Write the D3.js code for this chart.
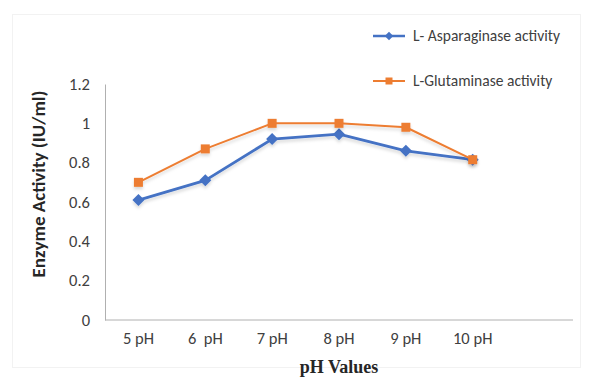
<!DOCTYPE html>
<html>
<head>
<meta charset="utf-8">
<script src="https://cdn.jsdelivr.net/npm/d3@7"></script>
<style>
  html, body { margin: 0; padding: 0; background: #fff; }
  svg { display: block; }
</style>
</head>
<body>
<svg id="chart"></svg>
<script>
// pH profile of L-asparaginase and L-glutaminase activity

const WIDTH = 595;
const HEIGHT = 379;

const phLabels = ["5 pH", "6  pH", "7 pH", "8 pH", "9 pH", "10 pH"];
const asparaginase = [0.61, 0.71, 0.92, 0.945, 0.86, 0.815];
const glutaminase = [0.70, 0.87, 1.0, 1.0, 0.98, 0.815];
const yTicks = [0, 0.2, 0.4, 0.6, 0.8, 1, 1.2];
const seriesNames = ["L- Asparaginase activity", "L-Glutaminase activity"];

const BLUE = "#4472C4";
const ORANGE = "#ED7D31";
const AXIS_COLOR = "#b0b0b0";
const LABEL_COLOR = "#404040";
const FONT = "Carlito, 'Open Sans', sans-serif";

const plotLeft = 105;
const plotRight = 573;
const plotTop = 84;
const plotBottom = 320;
const band = (plotRight - plotLeft) / 7;

const svg = d3.select("#chart")
    .attr("width", WIDTH)
    .attr("height", HEIGHT);

// Drop shadow like the Excel line effect
const defs = svg.append("defs");
const shadow = defs.append("filter")
    .attr("id", "shadow")
    .attr("x", "-20%").attr("y", "-20%")
    .attr("width", "140%").attr("height", "160%");
shadow.append("feDropShadow")
    .attr("dx", 0).attr("dy", 2.5)
    .attr("stdDeviation", 1.5)
    .attr("flood-color", "#000")
    .attr("flood-opacity", 0.15);

// Faint chart frame
svg.append("rect")
    .attr("x", 12.5).attr("y", 14.5)
    .attr("width", 568).attr("height", 353)
    .attr("fill", "none")
    .attr("stroke", "#f2f2f2")
    .attr("stroke-width", 1);

const x = d3.scaleBand()
    .domain(phLabels)
    .range([plotLeft, plotLeft + band * phLabels.length]);

const y = d3.scaleLinear()
    .domain([0, 1.2])
    .range([plotBottom, plotTop]);

// Axes
const yAxis = svg.append("g")
    .attr("transform", `translate(${plotLeft},0)`)
    .call(d3.axisLeft(y).tickValues(yTicks).tickSize(0).tickPadding(15)
        .tickFormat(d => String(d)));
yAxis.select(".domain").attr("stroke", AXIS_COLOR);
yAxis.selectAll("text")
    .attr("font-family", FONT)
    .attr("font-size", "16.5px")
    .attr("fill", LABEL_COLOR);

const xAxis = svg.append("g")
    .attr("transform", `translate(0,${plotBottom})`)
    .call(d3.axisBottom(x).tickSize(0).tickPadding(12));
xAxis.select(".domain").remove();
xAxis.append("line")
    .attr("x1", plotLeft).attr("x2", plotRight)
    .attr("stroke", AXIS_COLOR);
xAxis.selectAll("text")
    .attr("font-family", FONT)
    .attr("font-size", "16.5px")
    .attr("fill", LABEL_COLOR)
    .style("white-space", "pre");

// Axis titles
svg.append("text")
    .attr("transform", `translate(45,${(plotTop + plotBottom) / 2 - 18}) rotate(-90)`)
    .attr("text-anchor", "middle")
    .attr("font-family", FONT)
    .attr("font-size", "19px")
    .attr("font-weight", "bold")
    .attr("fill", "#262626")
    .text("Enzyme Activity (IU/ml)");

svg.append("text")
    .attr("x", 339)
    .attr("y", 373)
    .attr("text-anchor", "middle")
    .attr("font-family", "'Liberation Serif', 'DejaVu Serif', serif")
    .attr("font-size", "18px")
    .attr("font-weight", "bold")
    .attr("fill", "#262626")
    .text("pH Values");

// Series
const line = d3.line()
    .x((d, i) => x(phLabels[i]) + x.bandwidth() / 2)
    .y(d => y(d));

// Diamond = square turned 45 degrees, so it is as wide as it is tall
const square = d3.symbol().type(d3.symbolSquare);

function drawSeries(values, color, width, size, angle) {
    const g = svg.append("g").attr("filter", "url(#shadow)");
    g.append("path")
        .attr("d", line(values))
        .attr("fill", "none")
        .attr("stroke", color)
        .attr("stroke-width", width)
        .attr("stroke-linejoin", "round");
    g.selectAll(".marker")
        .data(values)
        .join("path")
        .attr("class", "marker")
        .attr("transform", (d, i) =>
            `translate(${x(phLabels[i]) + x.bandwidth() / 2},${y(d)}) rotate(${angle})`)
        .attr("d", square.size(size)())
        .attr("fill", color);
}

drawSeries(asparaginase, BLUE, 2.8, 72, 45);
drawSeries(glutaminase, ORANGE, 2, 81, 0);

// Legend
const legendItems = [
    { name: seriesNames[0], color: BLUE, size: 36, angle: 45, w: 2.5 },
    { name: seriesNames[1], color: ORANGE, size: 49, angle: 0, w: 2 }
];
const legend = svg.append("g");
legendItems.forEach((item, i) => {
    const ly = 36 + i * 45;
    legend.append("line")
        .attr("x1", 373).attr("x2", 405)
        .attr("y1", ly).attr("y2", ly)
        .attr("stroke", item.color)
        .attr("stroke-width", item.w);
    legend.append("path")
        .attr("transform", `translate(389,${ly}) rotate(${item.angle})`)
        .attr("d", d3.symbol().type(d3.symbolSquare).size(item.size)())
        .attr("fill", item.color);
    legend.append("text")
        .attr("x", 413)
        .attr("y", ly)
        .attr("dy", "0.35em")
        .attr("font-family", FONT)
        .attr("font-size", "15.5px")
        .attr("fill", LABEL_COLOR)
        .text(item.name);
});
</script>
</body>
</html>
